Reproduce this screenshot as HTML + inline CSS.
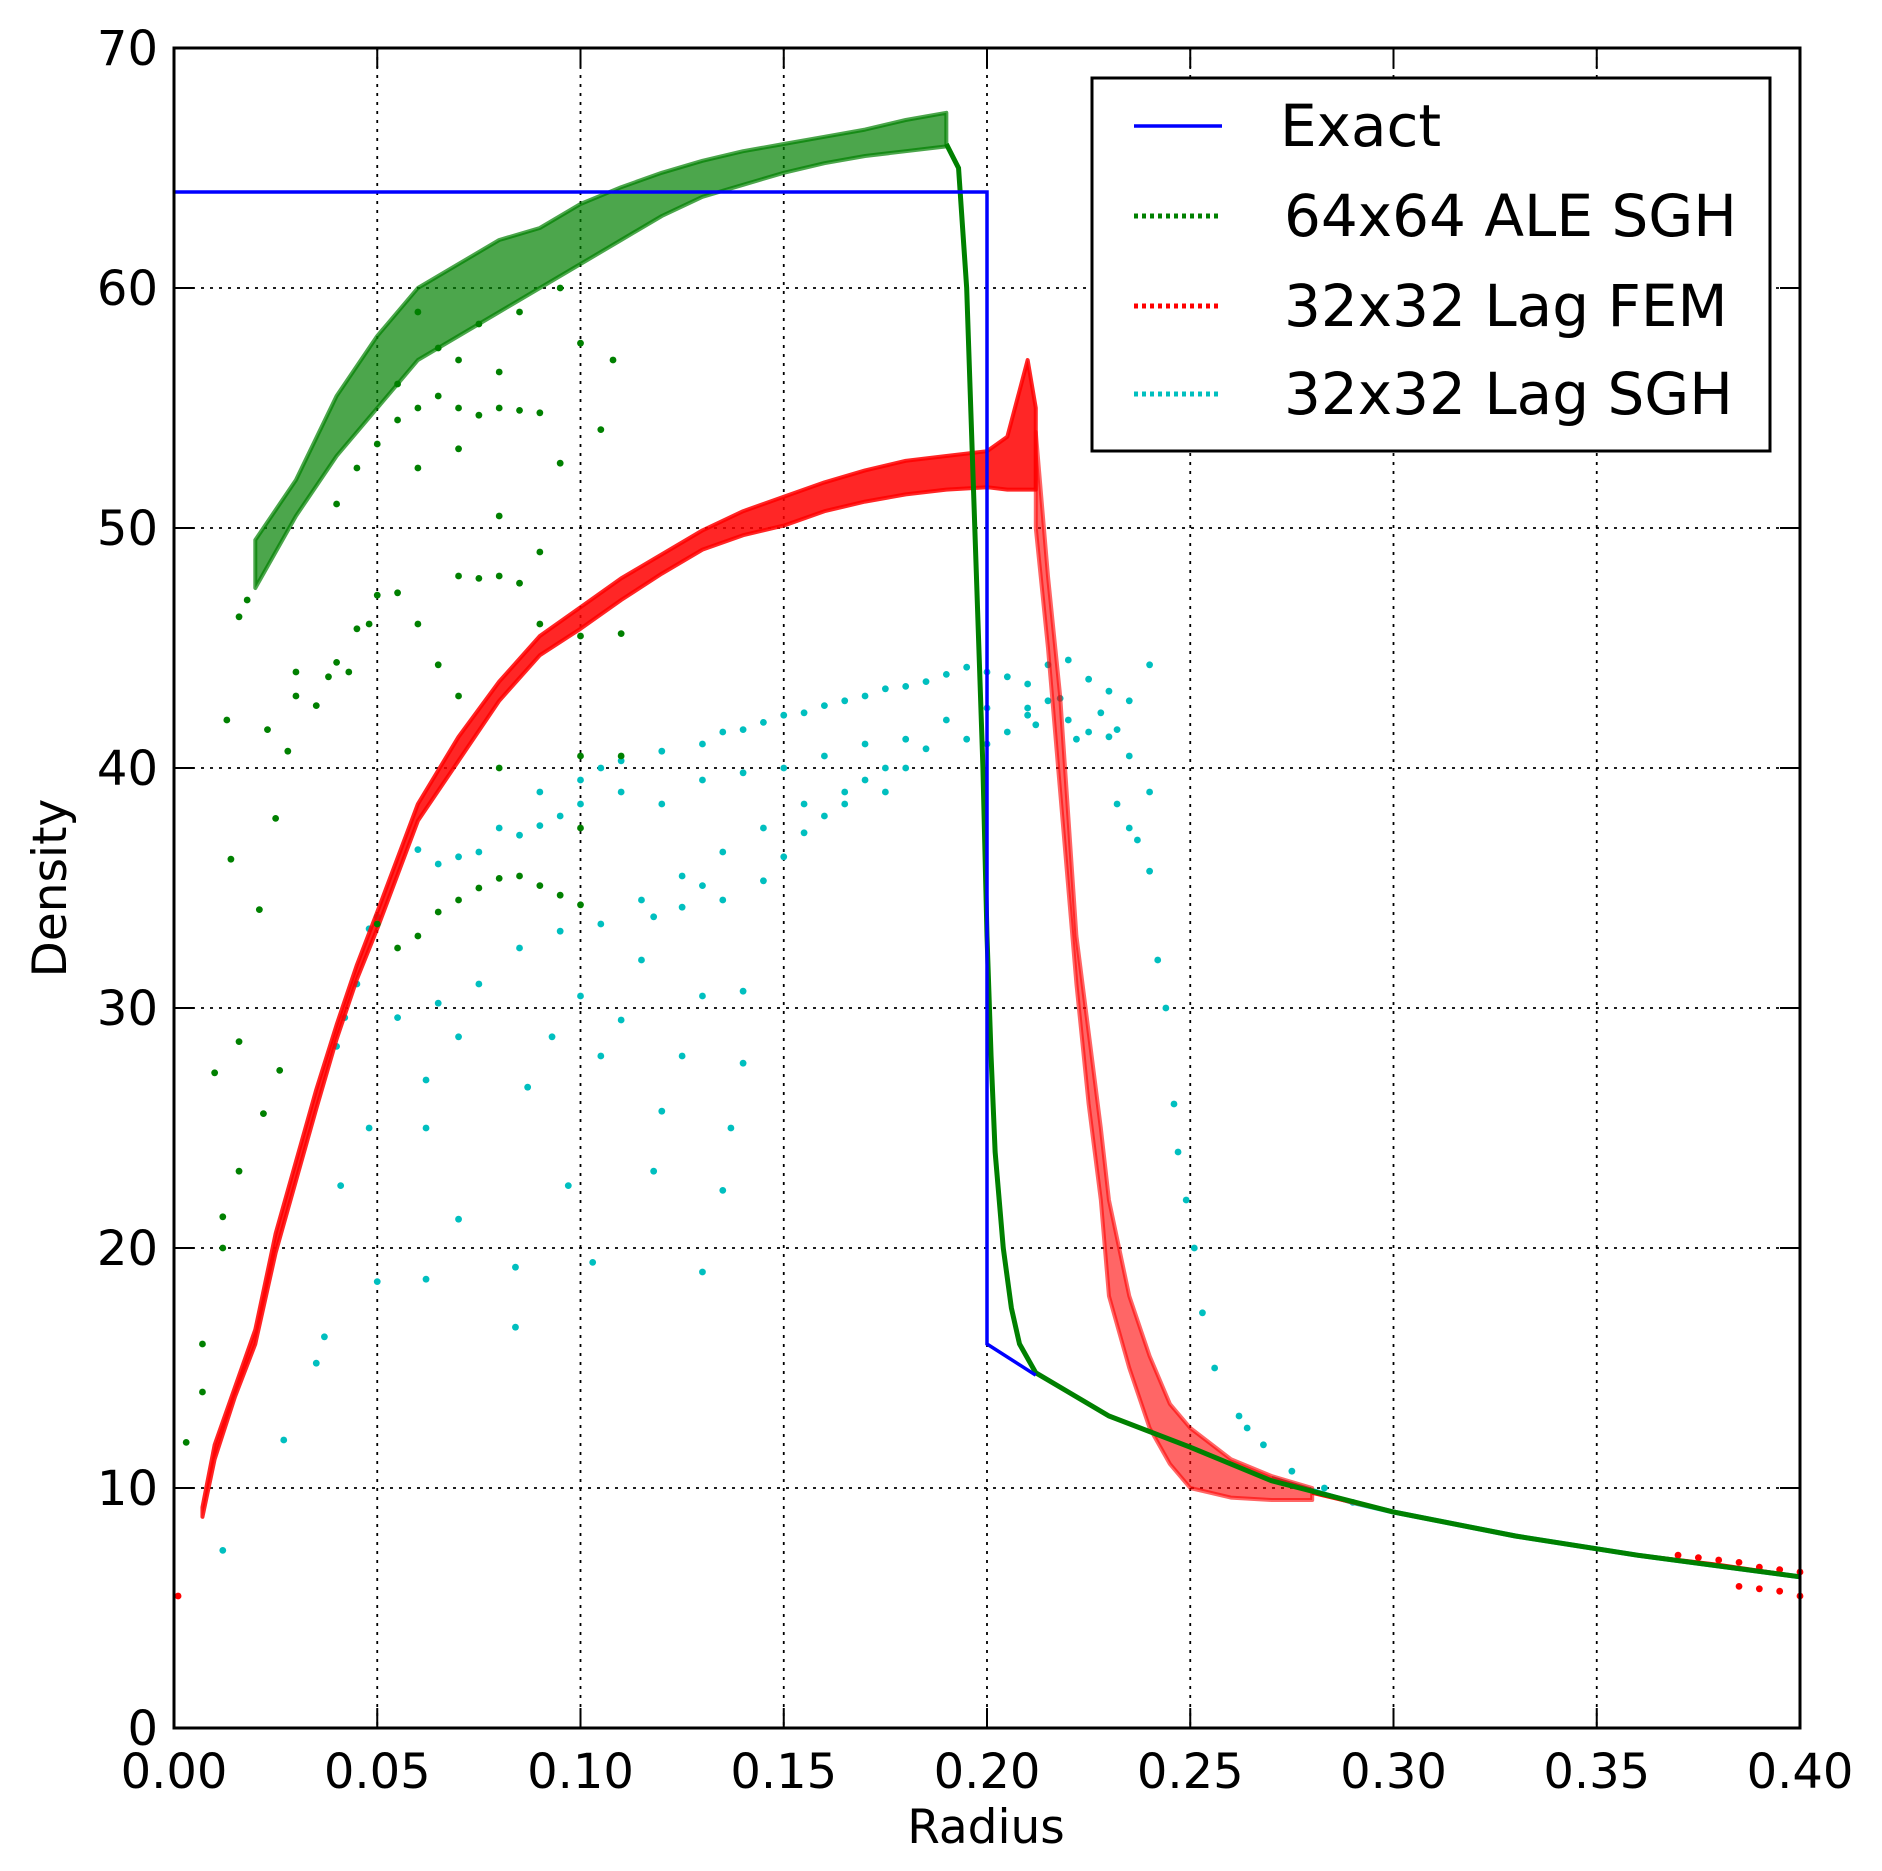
<!DOCTYPE html>
<html><head><meta charset="utf-8"><style>
html,body{margin:0;padding:0;background:#fff}
svg{display:block;font-family:"DejaVu Sans","Liberation Sans",sans-serif}
</style></head><body>
<svg id="chart" width="1882" height="1871" viewBox="0 0 1882 1871" xmlns="http://www.w3.org/2000/svg">
<rect width="1882" height="1871" fill="#fff"/>
<g id="grid"></g>
<g id="series"></g>
<rect x="174" y="48" width="1626" height="1680" fill="none" stroke="#000" stroke-width="3"/>
<g id="ticks"></g>
<text x="986" y="1843" font-size="47" text-anchor="middle">Radius</text>
<text x="66" y="888" font-size="47" text-anchor="middle" transform="rotate(-90 66 888)">Density</text>
<g>
<rect x="1092" y="78" width="678" height="373" fill="#fff" stroke="#000" stroke-width="3"/>
<line x1="1134" y1="126" x2="1222" y2="126" stroke="#0000ff" stroke-width="3.5"/>
<text x="1280" y="146" font-size="58">Exact</text>
<line x1="1134" y1="216" x2="1222" y2="216" stroke="#008000" stroke-width="5" stroke-dasharray="4 4"/>
<text x="1284" y="236" font-size="58">64x64 ALE SGH</text>
<line x1="1134" y1="306" x2="1222" y2="306" stroke="#ff0000" stroke-width="5" stroke-dasharray="4 4"/>
<text x="1284" y="326" font-size="58">32x32 Lag FEM</text>
<line x1="1134" y1="394" x2="1222" y2="394" stroke="#00bfbf" stroke-width="5" stroke-dasharray="4 4"/>
<text x="1284" y="414" font-size="58">32x32 Lag SGH</text>
</g>
</svg>
<script>
const xTicks=["0.00","0.05","0.10","0.15","0.20","0.25","0.30","0.35","0.40"];
const yTicks=["0","10","20","30","40","50","60","70"];
const exactR=[0,0.2,0.2,0.212];
const exactD=[64,64,16,14.7];
const aleBandR=[0.02,0.03,0.04,0.05,0.06,0.07,0.08,0.09,0.10,0.11,0.12,0.13,0.14,0.15,0.16,0.17,0.18,0.19];
const aleBandHi=[49.5,52,55.5,58,60,61,62,62.5,63.5,64.2,64.8,65.3,65.7,66,66.3,66.6,67,67.3];
const aleBandLo=[47.5,50.5,53,55,57,58,59,60,61,62,63,63.8,64.3,64.8,65.2,65.5,65.7,65.9];
const aleLineR=[0.19,0.193,0.195,0.197,0.199,0.2,0.201,0.202,0.204,0.206,0.208,0.212,0.22,0.23,0.25,0.27,0.3,0.33,0.36,0.4];
const aleLineD=[66,65,60,50,40,33,28,24,20,17.5,16,14.8,14,13,11.7,10.3,9,8,7.2,6.3];
const aleDotR=[0.003,0.007,0.007,0.01,0.012,0.012,0.013,0.014,0.016,0.016,0.016,0.018,0.021,0.022,0.023,0.025,0.026,0.028,0.03,0.035,0.038,0.04,0.045,0.05,0.055,0.06,0.065,0.07,0.075,0.08,0.085,0.09,0.05,0.055,0.06,0.065,0.07,0.075,0.08,0.085,0.09,0.095,0.1,0.04,0.045,0.05,0.055,0.06,0.065,0.07,0.075,0.08,0.085,0.09,0.095,0.1,0.108,0.105,0.06,0.07,0.08,0.09,0.1,0.11,0.048,0.043,0.03,0.07,0.08,0.1,0.11,0.1,0.055,0.065,0.075,0.085,0.095,0.06,0.07,0.08];
const aleDotD=[11.9,14,16,27.3,21.3,20,42,36.2,23.2,28.6,46.3,47,34.1,25.6,41.6,37.9,27.4,40.7,43,42.6,43.8,44.4,45.8,47.2,47.3,46,44.3,48,47.9,48,47.7,46,33.5,32.5,33,34,34.5,35,35.4,35.5,35.1,34.7,34.3,51,52.5,53.5,54.5,55,55.5,55,54.7,55,54.9,54.8,52.7,57.7,57,54.1,52.5,53.3,50.5,49,45.5,45.6,46,44,44,43,40,40.5,40.5,37.5,56,57.5,58.5,59,60,59,57,56.5];
const femBandR=[0.007,0.01,0.015,0.02,0.025,0.03,0.035,0.04,0.045,0.05,0.06,0.07,0.08,0.09,0.1,0.11,0.12,0.13,0.14,0.15,0.16,0.17,0.18,0.19,0.2,0.205,0.21,0.212];
const femBandLo=[8.8,11.2,13.8,16,19.8,22.8,25.8,28.7,31.2,33.3,37.8,40.3,42.8,44.7,45.8,47,48.1,49.1,49.7,50.1,50.7,51.1,51.4,51.6,51.7,51.6,51.6,51.6];
const femBandHi=[9.2,11.8,14.2,16.6,20.6,23.6,26.6,29.3,31.8,34,38.5,41.3,43.6,45.5,46.7,47.9,48.9,49.9,50.7,51.3,51.9,52.4,52.8,53,53.2,53.8,57,55];
const femDropR=[0.212,0.215,0.218,0.22,0.222,0.225,0.228,0.23,0.235,0.24,0.245,0.25,0.26,0.27,0.28];
const femDropLo=[50,45,39,35,31,26,22,18,15,12.5,11,10,9.6,9.5,9.5];
const femDropHi=[54,48,43,38,33,29,25,22,18,15.5,13.5,12.5,11.2,10.5,10];
const femTailR=[0.28,0.3,0.33,0.36,0.38,0.4];
const femTailD=[9.8,9,8,7.2,6.8,6.3];
const femDotR=[0.37,0.375,0.38,0.385,0.39,0.395,0.4,0.385,0.39,0.395,0.4,0.001];
const femDotD=[7.2,7.1,7,6.9,6.7,6.6,6.5,5.9,5.8,5.7,5.5,5.5];
const sghDotR=[0.09,0.1,0.105,0.11,0.12,0.13,0.135,0.14,0.145,0.15,0.155,0.16,0.165,0.17,0.175,0.18,0.185,0.19,0.195,0.2,0.205,0.21,0.215,0.22,0.225,0.23,0.235,0.24,
0.06,0.065,0.07,0.075,0.08,0.085,0.09,0.095,0.1,0.11,0.12,0.13,0.14,0.15,0.16,0.17,0.18,0.19,0.2,0.205,0.21,0.215,0.22,0.225,0.23,0.235,0.2,0.195,0.185,0.175,0.165,0.155,0.145,0.135,0.125,0.115,0.105,0.095,0.085,0.075,0.065,0.055,0.05,0.048,0.045,0.042,0.04,
0.035,0.037,0.027,0.012,0.041,0.048,0.05,0.062,0.062,0.062,0.07,0.07,0.084,0.084,0.087,0.093,0.097,0.1,0.103,0.105,0.11,0.115,0.118,0.12,0.125,0.13,0.13,0.135,0.137,0.14,0.14,0.145,0.15,0.155,0.16,0.165,0.17,0.175,0.18,0.118,0.125,0.13,0.135,
0.232,0.235,0.237,0.24,0.24,0.242,0.244,0.246,0.247,0.249,0.251,0.253,0.256,0.262,0.264,0.268,0.275,0.283,0.29,0.21,0.212,0.218,0.222,0.228,0.232];
const sghDotD=[39,39.5,40,40.3,40.7,41,41.5,41.6,41.9,42.2,42.3,42.6,42.8,43,43.3,43.4,43.6,43.9,44.2,44,43.8,43.5,44.3,44.5,43.7,43.2,42.8,44.3,
36.6,36,36.3,36.5,37.5,37.2,37.6,38,38.5,39,38.5,39.5,39.8,40,40.5,41,41.2,42,42.5,41.5,42.2,42.8,42,41.5,41.3,40.5,41,41.2,40.8,40,39,38.5,37.5,36.5,35.5,34.5,33.5,33.2,32.5,31,30.2,29.6,33.8,33.3,31,29.6,28.4,
15.2,16.3,12,7.4,22.6,25,18.6,18.7,25,27,21.2,28.8,19.2,16.7,26.7,28.8,22.6,30.5,19.4,28,29.5,32,23.2,25.7,28,19,30.5,22.4,25,27.7,30.7,35.3,36.3,37.3,38,38.5,39.5,39,40,33.8,34.2,35.1,34.5,
38.5,37.5,37,35.7,39,32,30,26,24,22,20,17.3,15,13,12.5,11.8,10.7,10,9.4,42.5,41.8,42.9,41.2,42.3,41.6];
const sghTailR=[0.27,0.28,0.29,0.3,0.33,0.36,0.4];
const sghTailD=[10.4,9.9,9.4,9,8,7.2,6.3];

const NS="http://www.w3.org/2000/svg";
const X=r=>174+r/0.4*1626;
const Y=d=>1728-d/70*1680;
const grid=document.getElementById('grid'),ticks=document.getElementById('ticks'),ser=document.getElementById('series');
function mk(tag,attrs,parent){const e=document.createElementNS(NS,tag);for(const k in attrs)e.setAttribute(k,attrs[k]);parent.appendChild(e);return e;}
xTicks.forEach((t,i)=>{const v=parseFloat(t),x=X(v);
 if(i>0&&i<xTicks.length-1){const g=mk('line',{x1:x,y1:48,x2:x,y2:1728,stroke:'#000','stroke-width':1.8,'stroke-dasharray':'3 6'},grid);
 
 }
 const a=mk('line',{x1:x,y1:1728,x2:x,y2:1708,stroke:'#000','stroke-width':2},ticks);
 
 
 const b=mk('line',{x1:x,y1:48,x2:x,y2:68,stroke:'#000','stroke-width':2},ticks);
 
 
 const l=mk('text',{x:x,y:1788,'font-size':48,'text-anchor':'middle'},ticks);l.textContent=t;
 
 
});
yTicks.forEach((t,i)=>{const v=parseFloat(t),y=Y(v);
 if(i>0&&i<yTicks.length-1){const g=mk('line',{x1:174,y1:y,x2:1800,y2:y,stroke:'#000','stroke-width':1.8,'stroke-dasharray':'3 6'},grid);
 
 }
 const a=mk('line',{x1:174,y1:y,x2:194,y2:y,stroke:'#000','stroke-width':2},ticks);
 
 
 const b=mk('line',{x1:1780,y1:y,x2:1800,y2:y,stroke:'#000','stroke-width':2},ticks);
 
 
 const l=mk('text',{x:158,y:y+17,'font-size':48,'text-anchor':'end'},ticks);l.textContent=t;
 
 
});
function band(rs,lo,hi,color,op,name){let p=rs.map((r,i)=>X(r)+','+Y(hi[i]));for(let i=rs.length-1;i>=0;i--)p.push(X(rs[i])+','+Y(lo[i]));
 const e=mk('polygon',{points:p.join(' '),fill:color,'fill-opacity':op,stroke:color,'stroke-width':4,'stroke-opacity':op,'stroke-linejoin':'round'},ser);
 
 }
function line(rs,ds,color,w,name){const e=mk('polyline',{points:rs.map((r,i)=>X(r)+','+Y(ds[i])).join(' '),fill:'none',stroke:color,'stroke-width':w},ser);
 
 }
function dots(rs,ds,color,name){rs.forEach((r,i)=>{const c=mk('circle',{cx:X(r),cy:Y(ds[i]),r:3.4,fill:color},ser);
 
 });}
dots(sghDotR,sghDotD,'#00bfbf','lag-sgh-point');
line(sghTailR,sghTailD,'#00bfbf',5,'lag-sgh-tail');
band(femBandR,femBandLo,femBandHi,'#ff0000',0.85,'lag-fem-band');
band(femDropR,femDropLo,femDropHi,'#ff0000',0.6,'lag-fem-drop');
line(femTailR,femTailD,'#ff0000',4,'lag-fem-tail');
dots(femDotR,femDotD,'#ff0000','lag-fem-point');
band(aleBandR,aleBandLo,aleBandHi,'#008000',0.7,'ale-sgh-band');
line(aleLineR,aleLineD,'#008000',5,'ale-sgh-shock');
dots(aleDotR,aleDotD,'#008000','ale-sgh-point');
line(exactR,exactD,'#0000ff',3.5,'exact-line');
</script>
</body></html>
